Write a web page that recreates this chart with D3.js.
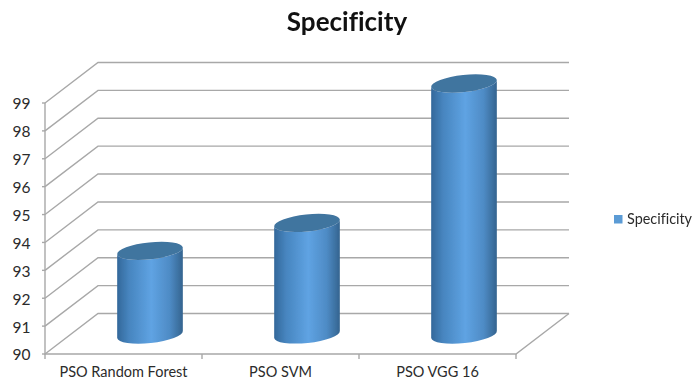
<!DOCTYPE html>
<html>
<head>
<meta charset="utf-8">
<script src="https://d3js.org/d3.v7.min.js"></script>
<style>
  html, body { margin: 0; padding: 0; background: #fff; }
  svg { display: block; }
  text { font-family: Lato, "Open Sans", sans-serif; fill: #2b2b2b; font-variant-ligatures: none; }
</style>
</head>
<body>
<svg width="692" height="383"></svg>
<script>
var categories = ["PSO Random Forest", "PSO SVM", "PSO VGG 16"];
var values = [93, 94, 99];
var yTicks = [90, 91, 92, 93, 94, 95, 96, 97, 98, 99];
var seriesName = "Specificity";

var svg = d3.select("svg"),
    left = 45, right = 516, floor = 354, top99 = 103,
    depth = {x: 53, y: -40.5},
    gridColor = "#a8a8a8";

var x = d3.scaleBand().domain(categories).range([left, right]);
var y = d3.scaleLinear().domain([90, 99]).range([floor, top99]);

var defs = svg.append("defs");
var grad = defs.append("linearGradient").attr("id", "body");
grad.append("stop").attr("offset", "0%").attr("stop-color", "#33689a");
grad.append("stop").attr("offset", "18%").attr("stop-color", "#4785bf");
grad.append("stop").attr("offset", "52%").attr("stop-color", "#5fa3e3");
grad.append("stop").attr("offset", "80%").attr("stop-color", "#4e8bc5");
grad.append("stop").attr("offset", "100%").attr("stop-color", "#34648f");
defs.append("filter").attr("id", "soft")
    .append("feGaussianBlur").attr("stdDeviation", 0.5);

// walls and floor
var walls = svg.append("g").attr("filter", "url(#soft)")
    .attr("fill", "none").attr("stroke", gridColor).attr("stroke-width", 1.4);

walls.selectAll(".grid")
  .data(yTicks)
  .enter().append("path")
    .attr("class", "grid")
    .attr("d", function(d) {
      return "M" + left + "," + y(d) + "L" + (left + depth.x) + "," + (y(d) + depth.y) +
             "H" + (right + depth.x);
    });

walls.append("path")
    .attr("d", "M" + left + "," + top99 + "V" + floor + "H" + right +
               "L" + (right + depth.x) + "," + (floor + depth.y));

// tick marks sit on the band edges, not the centres
var edges = categories.map(function(d) { return x(d); }).concat([right]);
walls.selectAll(".xtick")
  .data(edges)
  .enter().append("line")
    .attr("class", "xtick")
    .attr("x1", function(d) { return d; })
    .attr("x2", function(d) { return d; })
    .attr("y1", floor)
    .attr("y2", floor + 5);

walls.selectAll(".ytick")
  .data(yTicks)
  .enter().append("line")
    .attr("class", "ytick")
    .attr("x1", left - 3)
    .attr("x2", left)
    .attr("y1", function(d) { return y(d); })
    .attr("y2", function(d) { return y(d); });

// axis labels
var yAxis = svg.append("g")
    .attr("transform", "translate(" + left + ",1)")
    .call(d3.axisLeft(y).tickValues(yTicks).tickSize(0).tickPadding(14.5));
var xAxis = svg.append("g")
    .attr("transform", "translate(0," + floor + ")")
    .call(d3.axisBottom(x).tickSize(0).tickPadding(13));
svg.selectAll(".domain").remove();
yAxis.selectAll("text").attr("font-size", 15.5).style("font-family", "Lato").style("fill", "#2b2b2b");
xAxis.selectAll("text").attr("font-size", 14.5).style("font-family", "Lato").style("fill", "#2b2b2b");

// cylinders
var rx = 33, ry = 8.5, tilt = 6 * Math.PI / 180,
    dx = rx * Math.cos(tilt), dy = rx * Math.sin(tilt),
    offX = depth.x / 2, offY = -19.5;

var bars = svg.append("g").attr("filter", "url(#soft)").selectAll(".bar")
  .data(values)
  .enter().append("g")
    .attr("class", "bar");

function cx(i) { return x(categories[i]) + x.bandwidth() / 2 + offX; }

bars.append("path")
    .attr("fill", "url(#body)")
    .attr("d", function(d, i) {
      var c = cx(i), t = y(d) + offY, b = floor + offY;
      return "M" + (c - dx) + "," + (t + dy) +
             "L" + (c - dx) + "," + (b + dy) +
             "A" + rx + "," + ry + ",-6,0,0," + (c + dx) + "," + (b - dy) +
             "L" + (c + dx) + "," + (t - dy) +
             "A" + rx + "," + ry + ",-6,0,1," + (c - dx) + "," + (t + dy) + "Z";
    });

bars.append("ellipse")
    .attr("fill", "#41749f")
    .attr("rx", rx)
    .attr("ry", ry)
    .attr("transform", function(d, i) {
      return "translate(" + cx(i) + "," + (y(d) + offY) + ") rotate(-6)";
    });

// title
svg.append("text")
    .attr("x", 347)
    .attr("y", 31)
    .attr("text-anchor", "middle")
    .attr("font-size", 26)
    .attr("font-weight", 700)
    .style("fill", "#111")
    .text(seriesName);

// legend
svg.append("rect")
    .attr("x", 614).attr("y", 215)
    .attr("width", 8.5).attr("height", 8.5)
    .attr("fill", "#5b9bd5");
svg.append("text")
    .attr("x", 627)
    .attr("y", 223.5)
    .attr("font-size", 14.4)
    .text(seriesName);
</script>
</body>
</html>
